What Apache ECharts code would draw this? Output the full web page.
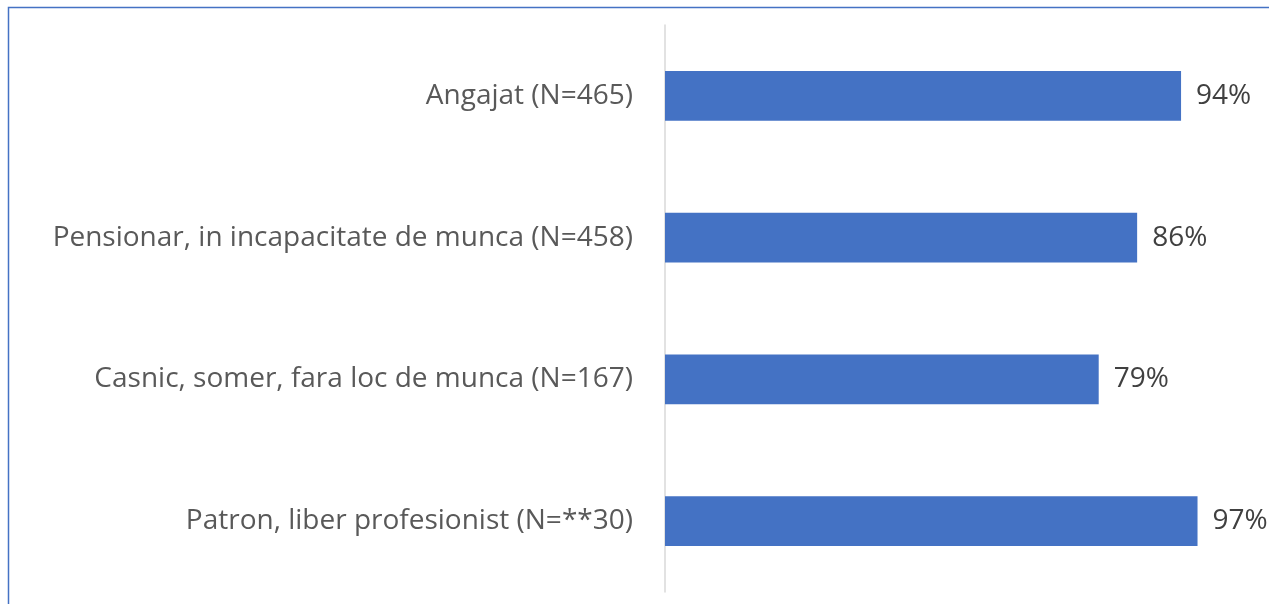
<!DOCTYPE html>
<html>
<head>
<meta charset="utf-8">
<script src="https://cdn.jsdelivr.net/npm/echarts@6/dist/echarts.min.js"></script>
<style>
  html, body { margin: 0; padding: 0; background: #fff; }
  #chart { width: 1269px; height: 604px; }
</style>
</head>
<body>
<div id="chart"></div>
<script>
// categories top to bottom
const categories = [
  'Angajat (N=465)',
  'Pensionar, in incapacitate de munca (N=458)',
  'Casnic, somer, fara loc de munca (N=167)',
  'Patron, liber profesionist (N=**30)'
]
const values = [0.94, 0.86, 0.79, 0.97]

const myChart = echarts.init(document.getElementById('chart'))

const options = {
  animation: false,
  textStyle: { fontFamily: 'Open Sans' },
  graphic: [
    {
      type: 'rect',
      shape: { x: 8.5, y: 7.5, width: 1300, height: 700 },
      style: { fill: 'none', stroke: '#4472C4', lineWidth: 1.5 }
    }
  ],
  grid: {
    left: 665,
    right: 55,
    top: 25,
    bottom: 12
  },
  xAxis: {
    type: 'value',
    min: 0,
    max: 1,
    show: false
  },
  yAxis: {
    type: 'category',
    inverse: true,
    data: categories,
    axisTick: { show: false },
    axisLine: { lineStyle: { color: '#D9D9D9', width: 1.5 } },
    axisLabel: {
      margin: 32,
      fontSize: 28,
      color: '#595959'
    }
  },
  series: [
    {
      type: 'bar',
      data: values,
      barCategoryGap: '65%',
      itemStyle: { color: '#4472C4' },
      label: {
        show: true,
        position: 'right',
        distance: 15,
        fontSize: 28,
        color: '#404040',
        formatter: p => Math.round(p.value * 100) + '%'
      }
    }
  ]
}

myChart.setOption(options)
</script>
</body>
</html>
